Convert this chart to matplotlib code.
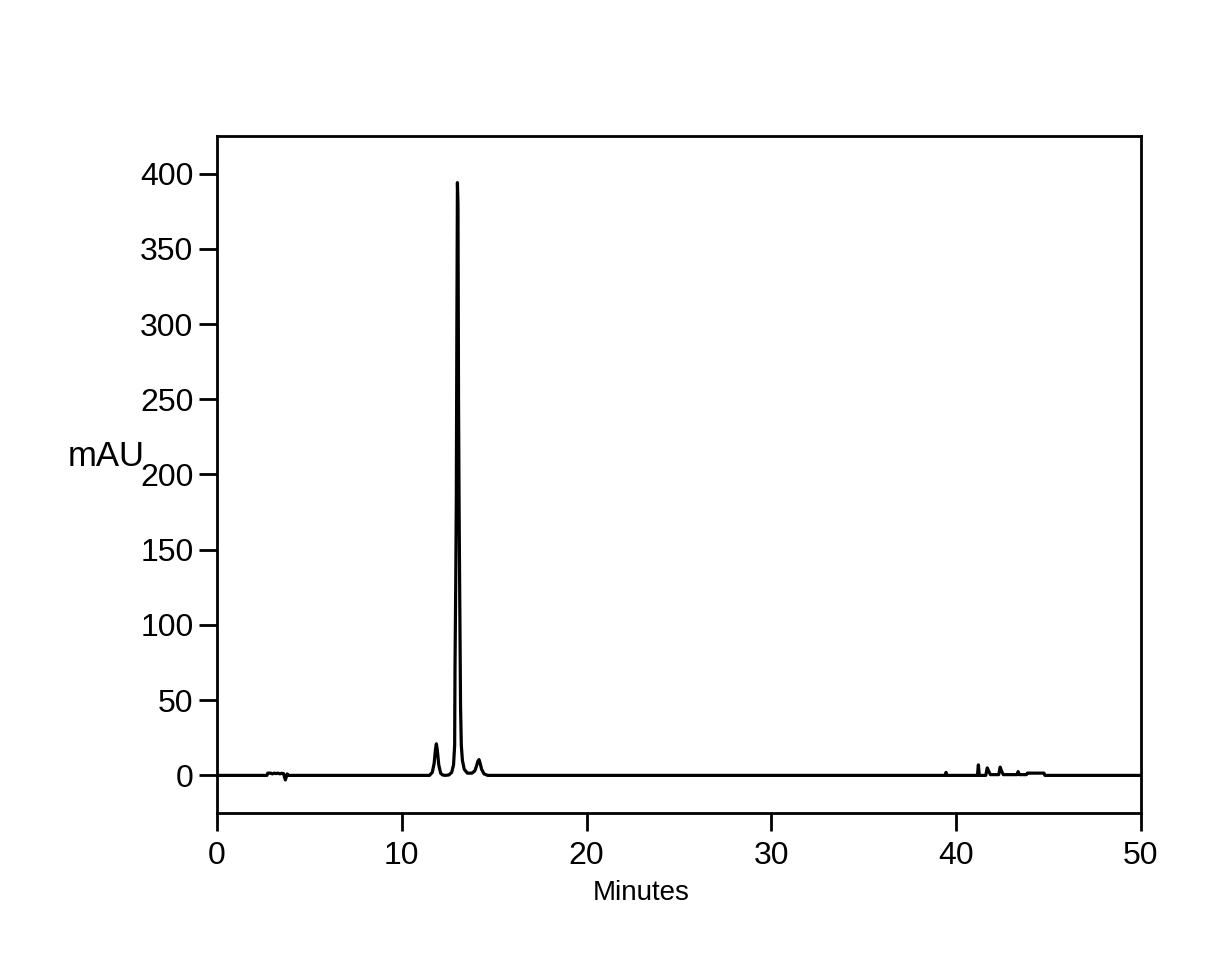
import matplotlib
matplotlib.use("Agg")
import matplotlib.pyplot as plt

plt.rcParams['font.family'] = ['Liberation Sans', 'DejaVu Sans']

# chromatogram trace vertices (minutes, mAU)
time_min = [0.0, 2.70, 2.75, 2.9, 3.0, 3.1, 3.2, 3.3, 3.4, 3.5, 3.6, 3.65, 3.70, 3.75, 3.80, 3.85,
            11.5, 11.65, 11.75, 11.82, 11.87, 11.92, 12.0, 12.1, 12.2, 12.35, 12.55, 12.7, 12.8,
            12.86, 12.88, 12.92, 12.95, 12.98, 13.01, 13.04, 13.07, 13.10, 13.14, 13.18, 13.22,
            13.28, 13.38, 13.55, 13.8, 13.95, 14.05, 14.12, 14.18, 14.24, 14.32, 14.45, 14.65,
            39.40, 39.45, 39.50, 41.15, 41.20, 41.25, 41.60, 41.68, 41.75, 41.85, 42.30, 42.38,
            42.45, 42.55, 43.30, 43.35, 43.42, 43.80, 43.85, 44.75, 44.80, 50.0]
signal_mau = [0.0, 0.0, 1.5, 1.5, 1.0, 1.5, 1.2, 1.5, 1.0, 1.4, 1.2, -1.0, -3.0, -1.0, 1.0, 0.0,
              0.0, 2.0, 8.0, 17.0, 21.0, 17.0, 7.0, 1.5, 0.3, 0.0, 0.3, 2.0, 7.0,
              20.0, 73.0, 130.0, 185.0, 300.0, 394.0, 380.0, 250.0, 180.0, 110.0, 45.0, 20.0,
              10.0, 4.0, 1.5, 1.5, 3.0, 6.5, 9.5, 10.5, 8.0, 4.0, 1.0, 0.0,
              0.0, 2.0, 0.0, 0.0, 7.0, 0.0, 0.0, 5.0, 3.0, 0.5, 0.5, 5.5,
              3.0, 0.5, 0.5, 2.5, 0.5, 0.5, 1.5, 1.5, 0.0, 0.0]

x_ticks = [0, 10, 20, 30, 40, 50]
y_ticks = [0, 50, 100, 150, 200, 250, 300, 350, 400]

fig = plt.figure(figsize=(12.3, 9.8), dpi=100)
ax = fig.add_axes([217/1230, 1 - 813/980, (1141-217)/1230, (813-136)/980])

ax.plot(time_min, signal_mau, color='black', lw=2.3)

ax.set_xlim(0, 50)
ax.set_ylim(-25, 425)
ax.set_xticks(x_ticks)
ax.set_yticks(y_ticks)
for s in ax.spines.values():
    s.set_linewidth(2.0)
ax.tick_params(direction='out', length=13, width=2.0, labelsize=23)
ax.tick_params(axis='y', pad=4)
ax.tick_params(axis='x', pad=7)

fig.text(641/1230, 1 - 893/980, 'Minutes', fontsize=20, ha='center', va='center')
ax.text(-0.078, 0.526, 'mAU', transform=ax.transAxes, fontsize=25,
        ha='right', va='center')

fig.savefig('out.png', dpi=100)
